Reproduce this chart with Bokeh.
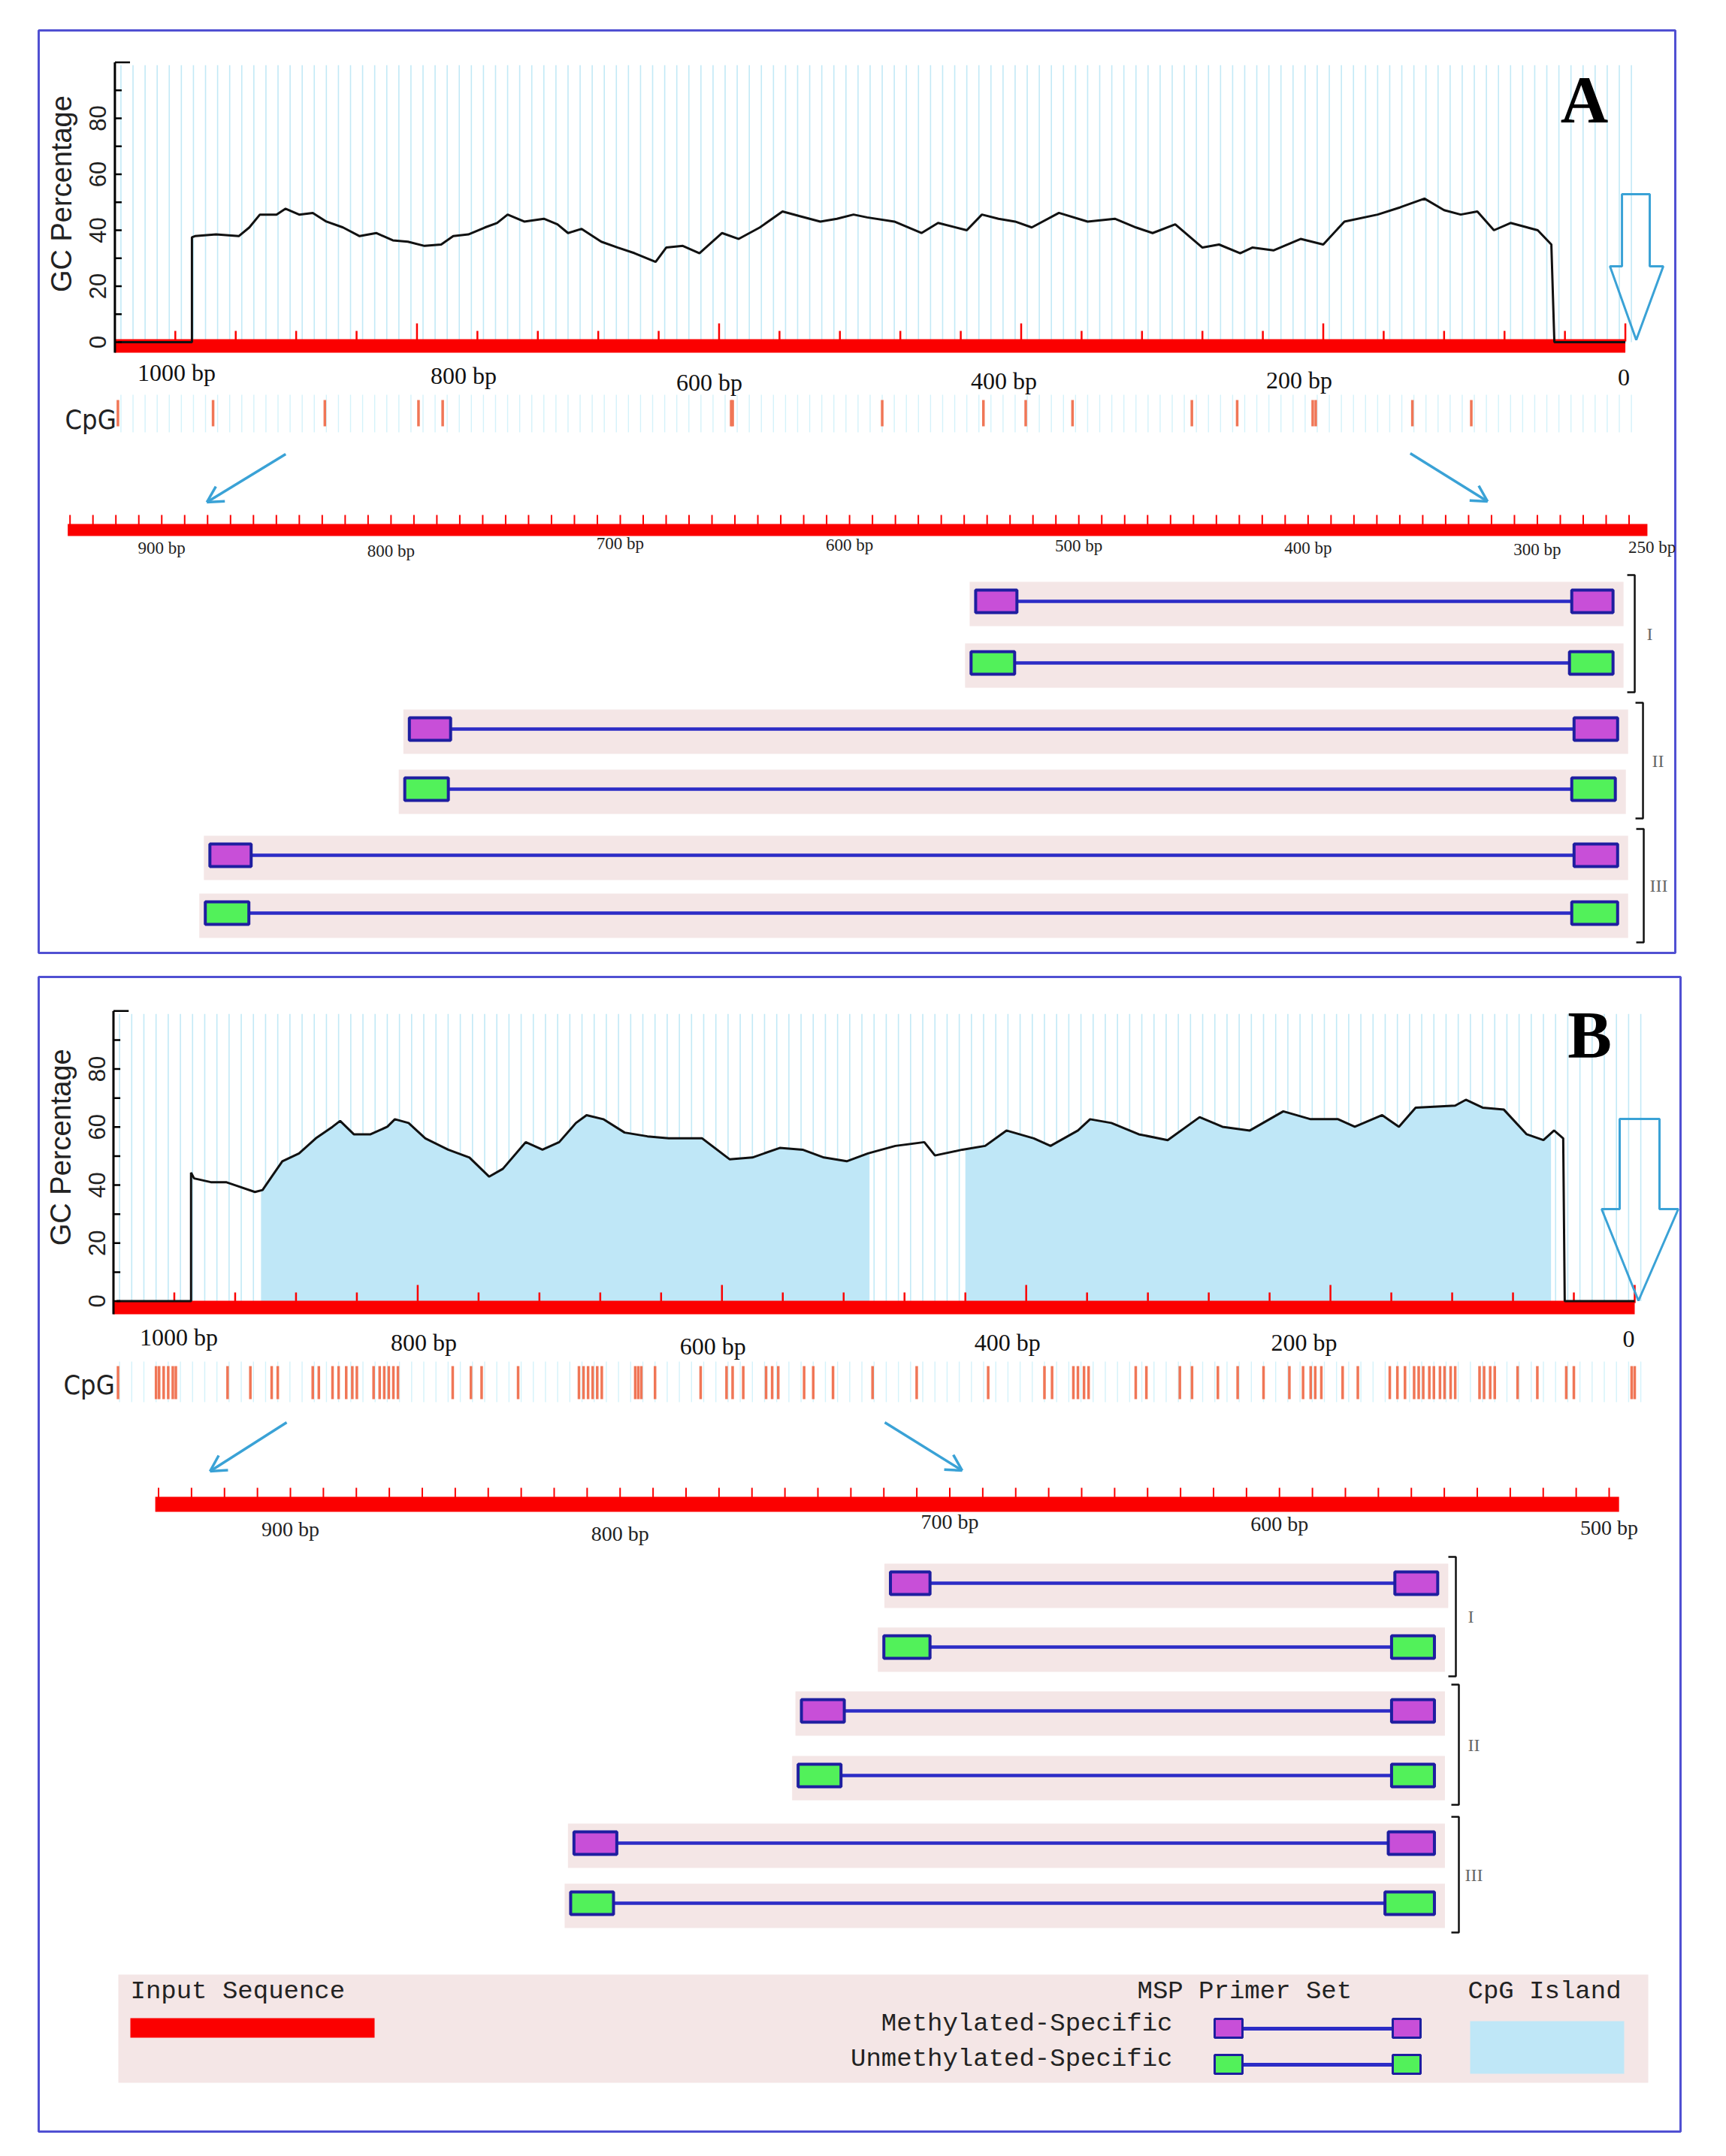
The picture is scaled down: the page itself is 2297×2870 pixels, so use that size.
import numpy as np
from bokeh.plotting import figure
from bokeh.models import Range1d, ColumnDataSource
from bokeh.layouts import column
from bokeh.embed import file_html
from bokeh.resources import INLINE
from bokeh.core.properties import value

# ======================= DATA =======================
# GC percentage profile, panel A (position in bp, GC %)
GC_A_BP = [998, 949, 949, 947, 933, 918, 911, 904, 893, 887, 878, 869, 860, 849, 838, 827,
           816, 806, 795, 784, 776, 766, 755, 747, 740, 729, 716, 707, 700, 691, 678, 667,
           656, 642, 635, 624, 613, 598, 587, 573, 558, 547, 533, 522, 511, 502, 484, 466,
           455, 436, 426, 415, 404, 393, 375, 356, 338, 324, 313, 298, 280, 269, 255, 247,
           233, 215, 200, 186, 164, 149, 133, 120, 109, 98, 87, 76, 58, 49, 47, 0]
GC_A_PCT = [0, 0, 37.5, 37.9, 38.5, 37.9, 41.0, 45.6, 45.6, 47.7, 45.6, 46.2, 43.1, 41.0, 37.9, 39.0,
            36.4, 35.9, 34.4, 34.9, 37.9, 38.5, 41.0, 42.6, 45.6, 43.1, 44.1, 42.1, 39.0, 40.5, 35.9, 33.8,
            31.8, 28.7, 33.8, 34.4, 31.8, 39.0, 36.9, 41.0, 46.7, 45.1, 43.1, 44.1, 45.6, 44.6, 43.1, 39.0,
            42.6, 40.0, 45.6, 44.1, 43.1, 41.0, 46.2, 43.1, 44.1, 41.0, 39.0, 42.1, 33.8, 34.9, 31.8, 33.8,
            32.8, 36.9, 34.9, 43.1, 45.6, 48.2, 51.3, 47.2, 45.6, 46.7, 40.0, 42.6, 40.0, 34.9, 0, 0]

# GC percentage profile, panel B
GC_B_BP = [998, 949, 949, 947, 936, 926, 918, 907, 902, 896, 889, 878, 867, 856, 851, 842,
           831, 820, 815, 806, 795, 780, 766, 753, 744, 729, 718, 707, 696, 689, 678, 664,
           649, 635, 613, 595, 580, 562, 547, 533, 518, 504, 486, 467, 460, 442, 427, 413,
           395, 384, 366, 358, 344, 326, 307, 286, 271, 253, 231, 213, 195, 184, 166, 155,
           144, 118, 111, 100, 86, 71, 60, 53, 47, 46, 0]
GC_B_PCT = [0, 0, 44.3, 42.3, 41.0, 41.0, 39.6, 37.6, 38.3, 42.9, 48.2, 50.9, 56.1, 60.1, 62.1, 57.5,
            57.5, 60.1, 62.7, 61.4, 56.1, 52.2, 49.5, 42.9, 45.6, 54.8, 52.2, 54.8, 61.4, 64.1, 62.7, 58.1,
            56.8, 56.1, 56.1, 48.9, 49.5, 52.8, 52.2, 49.5, 48.2, 50.9, 53.5, 54.8, 50.2, 52.2, 53.5, 58.8,
            56.1, 53.5, 58.8, 62.7, 61.4, 57.5, 55.5, 63.4, 60.1, 58.8, 65.4, 62.7, 62.7, 60.1, 64.1, 60.1,
            66.7, 67.4, 69.4, 66.7, 66.0, 57.5, 55.5, 58.8, 56.1, 0, 0]

# CpG island (panel B): start / end positions in bp
ISLAND_B_START = [903, 440]
ISLAND_B_END = [503, 55]

# CpG sites (bp)
CPG_A = [998, 935, 861, 799, 783, 592, 591, 492, 425, 397, 366, 287, 257, 207, 205, 141, 102]
CPG_B = [997, 972, 970, 967, 964, 961, 959, 925, 910, 896, 892, 869, 865, 856, 852, 847, 843, 840,
         829, 825, 822, 819, 816, 813, 777, 765, 758, 734, 694, 691, 688, 685, 682, 679, 657, 655,
         653, 644, 614, 597, 593, 586, 571, 567, 563, 546, 540, 527, 501, 472, 425, 388, 383, 369,
         366, 362, 359, 328, 321, 299, 291, 274, 261, 244, 227, 218, 213, 210, 206, 192, 182, 161,
         156, 151, 145, 142, 139, 135, 132, 128, 125, 121, 118, 102, 99, 95, 92, 77, 64, 45, 40, 2, 0]

# whole-sequence ruler labels
RULER_BP = [1000, 800, 600, 400, 200, 0]
RULER_LABELS = ["1000 bp", "800 bp", "600 bp", "400 bp", "200 bp", "0"]

# zoomed rulers
ZOOM_A_BP = [900, 800, 700, 600, 500, 400, 300, 250]
ZOOM_A_LABELS = ["900 bp", "800 bp", "700 bp", "600 bp", "500 bp", "400 bp", "300 bp", "250 bp"]
ZOOM_A_SPAN = [941, 252]
ZOOM_B_BP = [900, 800, 700, 600, 500]
ZOOM_B_LABELS = ["900 bp", "800 bp", "700 bp", "600 bp", "500 bp"]
ZOOM_B_SPAN = [941, 497]

# MSP primer sets (bp): forward box start/end, reverse box start/end
PRIMER_SETS = ["I", "II", "III"]
PRIMER_TYPE = ["M", "U", "M", "U", "M", "U"]
PA_FWD_START = [545, 547, 792, 794, 879, 881]
PA_FWD_END = [527, 528, 774, 775, 861, 862]
PA_REV_START = [285, 286, 284, 285, 284, 285]
PA_REV_END = [267, 267, 265, 266, 265, 265]
PB_FWD_START = [718, 720, 745, 746, 814, 815]
PB_FWD_END = [706, 706, 732, 733, 801, 802]
PB_REV_START = [565, 566, 566, 566, 567, 568]
PB_REV_END = [552, 553, 553, 553, 553, 553]

GC_TICKS = [0, 20, 40, 60, 80]

# ======================= STYLE / LAYOUT =======================
RED = "#fb0000"
GRID = "#c2e9f6"
GRID2 = "#d4f2fa"
CPG_COL = "#f07656"
ISL = "#bfe7f7"
ARROW = "#3aa2d6"
BORDER = "#5050d2"
BAND = "#f4e6e6"
PLINE = "#2c2cc6"
BOXLINE = "#1e1ea0"
FILL = {"M": "#c84fd8", "U": "#52f15a"}

SERIF = value("Liberation Serif")
SANS = value("Liberation Sans")
COND = value("DejaVu Sans Condensed")
MONO = value("Liberation Mono")


def fs(n):
    return value(f"{n}px")


def mid(base, size):
    # vertical centre of capitals/digits for a given baseline
    return base - 0.35 * size


LAY_A = dict(
    frame=(49, 40, 2229, 1268), border=(49, 40, 16, 8),
    main=(2162.5, 2.012), zoom=(250, 2198, 3.054), gc=(455, 3.725),
    bar=(451, 469), tick_minor=440, tick_major=430,
    lab_base=[507, 511, 520, 518, 517, 513], lab_off=[82, 62, -13, -23, -32, -2],
    grid_strip=(525, 575), cpg_marks=(532, 567), cpg_label=(84, 571),
    arrows=[(378, 604, 273, 668), (1876, 603, 1979, 667)],
    zbar=(697, 713), ztick=685, zfont=23, zbase=[737, 741, 731, 733, 734, 737, 739, 736],
    rows=[800, 882, 970, 1050, 1138, 1215], bracket_x=[2175, 2186, 2187],
    big=(2158, 2195, 258, 354, 2142, 2213, 2177, 452),
    letter=("A", 2108, 132), gc_label=(80, 53),
)
LAY_B = dict(
    frame=(51, 1300, 2236, 2837), border=(51, 24, 16, 8),
    main=(2175, 2.0245), zoom=(500, 2141, 4.3875), gc=(1731.5, 3.862),
    bar=(1731, 1749), tick_minor=1720, tick_major=1710,
    lab_base=[1791, 1798, 1803, 1798, 1798, 1793], lab_off=[87, 8, -12, -25, -35, -8],
    grid_strip=(1812, 1866), cpg_marks=(1818, 1862), cpg_label=(84, 1856),
    arrows=[(381, 1893, 279, 1958), (1177, 1893, 1280, 1957)],
    zbar=(1992, 2012), ztick=1980, zfont=28, zbase=[2045, 2051, 2035, 2038, 2043],
    rows=[2107, 2192, 2277, 2363, 2453, 2533], bracket_x=[1937, 1941, 1941],
    big=(2155, 2208, 1489, 1609, 2131, 2233, 2180, 1731),
    letter=("B", 2115, 1377), gc_label=(80, 53),
)


def arrow_segs(x0, y0, x1, y1, size=24, ang=0.5):
    dx, dy = x1 - x0, y1 - y0
    n = np.hypot(dx, dy)
    bx, by = -dx / n, -dy / n
    c, s = np.cos(ang), np.sin(ang)
    h1 = (x1 + size * (bx * c - by * s), y1 + size * (bx * s + by * c))
    h2 = (x1 + size * (bx * c + by * s), y1 + size * (-bx * s + by * c))
    return ([x0, x1, x1, x1], [y0, y1, y1, y1], [x1, x1, h1[0], h2[0]], [y1, y1, h1[1], h2[1]])


def make_panel(L, gc_bp, gc_pct, cpg, zoom_bp, zoom_labels, zoom_span,
               fs_, fe_, rs_, re_, islands=None, legend=False):
    fl, ft, fr, fb = L["frame"]
    bl, bt, br, bb = L["border"]
    x0, kx = L["main"]
    zr, zx, zk = L["zoom"]
    y0, ky = L["gc"]

    def mbp(x):
        return (x0 - x) / kx

    def zbp(x):
        return zr + (zx - x) / zk

    def gcv(y):
        return (y0 - y) / ky

    p = figure(width=bl + (fr - fl) + br, height=bt + (fb - ft) + bb,
               x_range=Range1d(mbp(fl), mbp(fr)), y_range=Range1d(gcv(fb), gcv(ft)),
               output_backend="svg", toolbar_location=None,
               x_axis_location=None, y_axis_location=None,
               min_border_left=bl, min_border_right=br, min_border_top=bt, min_border_bottom=bb)
    p.extra_x_ranges = {"zoom": Range1d(zbp(fl), zbp(fr)), "px": Range1d(fl, fr)}
    p.extra_y_ranges = {"px": Range1d(fb, ft)}
    p.grid.visible = False
    p.outline_line_color = BORDER
    p.outline_line_width = 3
    p.background_fill_color = "white"
    p.border_fill_color = "white"
    PX = dict(x_range_name="px", y_range_name="px")

    # --- background grid of the GC plot and CpG strip
    gx = np.arange(996, -5, -8)
    p.segment(x0=gx, y0=0, x1=gx, y1=99, line_color=GRID, line_width=1.6)
    s0, s1 = L["grid_strip"]
    p.segment(x0=gx, y0=s0, x1=gx, y1=s1, line_color=GRID2, line_width=1.4, y_range_name="px")

    # --- CpG island shading
    if islands is not None:
        xp = np.array(gc_bp[::-1], dtype=float)
        fp = np.array(gc_pct[::-1], dtype=float)
        for s, e in zip(*islands):
            xs = [s] + [b for b in gc_bp if e < b < s] + [e]
            ys = np.interp(xs, xp, fp)
            p.varea(x=xs, y1=0, y2=ys, fill_color=ISL)

    # --- whole-sequence ruler
    b0, b1 = L["bar"]
    p.quad(left=[1000], right=[0], top=[b0], bottom=[b1], fill_color=RED, line_color=None,
           y_range_name="px")
    tb = np.arange(960, -1, -40)
    tt = [L["tick_major"] if v % 200 == 0 else L["tick_minor"] for v in tb]
    p.segment(x0=tb, y0=tt, x1=tb, y1=b0 + 3, line_color=RED, line_width=2.5, y_range_name="px")

    # --- GC curve
    p.line(gc_bp, gc_pct, line_color="#111111", line_width=3)

    # --- y axis
    p.segment(x0=[1000], y0=[gcv(b1)], x1=[1000], y1=[100], line_color="black", line_width=3)
    yt = np.arange(0, 101, 10)
    p.segment(x0=[1000] * len(yt), y0=yt, x1=[1000 - (10 if v == 100 else 4.5) for v in yt], y1=yt,
              line_color="black", line_width=2.5)
    p.text(x=[128] * len(GC_TICKS), y=GC_TICKS, text=[str(v) for v in GC_TICKS], angle=np.pi / 2,
           text_font=SANS, text_font_size=fs(31), text_color="#222222",
           text_align="center", text_baseline="middle", x_range_name="px")
    gxl, gyl = L["gc_label"]
    p.text(x=[gxl], y=[gyl], text=["GC Percentage"], angle=np.pi / 2, text_font=SANS,
           text_font_size=fs(38), text_color="#222222", text_align="center",
           text_baseline="middle", x_range_name="px")

    # --- ruler labels
    src = ColumnDataSource(dict(x=RULER_BP, y=[mid(v, 32) for v in L["lab_base"]],
                                t=RULER_LABELS, dx=L["lab_off"]))
    p.text(x="x", y="y", text="t", x_offset="dx", source=src, text_font=SERIF,
           text_font_size=fs(32), text_color="#111111", text_align="center",
           text_baseline="middle", y_range_name="px")

    # --- CpG sites
    c0, c1 = L["cpg_marks"]
    p.segment(x0=cpg, y0=c0, x1=cpg, y1=c1, line_color=CPG_COL, line_width=3.5,
              y_range_name="px")
    cx, cy = L["cpg_label"]
    p.text(x=[cx], y=[mid(cy, 36)], text=["CpG"], text_font=COND, text_font_size=fs(36),
           text_color="#222222", text_align="left", text_baseline="middle", **PX)

    # --- zoom arrows
    for a in L["arrows"]:
        sx0, sy0, sx1, sy1 = arrow_segs(*a)
        p.segment(x0=sx0, y0=sy0, x1=sx1, y1=sy1, line_color=ARROW, line_width=3.5, **PX)

    # --- zoomed ruler
    z0, z1 = L["zbar"]
    p.quad(left=[zoom_span[0]], right=[zoom_span[1]], top=[z0], bottom=[z1], fill_color=RED,
           line_color=None, x_range_name="zoom", y_range_name="px")
    zt = np.arange((zoom_span[0] // 10) * 10, zoom_span[1], -10)
    p.segment(x0=zt, y0=L["ztick"], x1=zt, y1=z0 + 3, line_color=RED, line_width=2,
              x_range_name="zoom", y_range_name="px")
    p.text(x=zoom_bp, y=[mid(v, L["zfont"]) for v in L["zbase"]], text=zoom_labels,
           text_font=SERIF, text_font_size=fs(L["zfont"]), text_color="#222222",
           text_align="center", text_baseline="middle", x_range_name="zoom", y_range_name="px")

    # --- primer sets
    rows = L["rows"]
    ZP = dict(x_range_name="zoom", y_range_name="px")
    band_l = [v + 8 / zk for v in fs_]
    band_r = [v - 14 / zk for v in re_]
    p.quad(left=band_l, right=band_r, top=[r - 26 for r in rows], bottom=[r + 33 for r in rows],
           fill_color=BAND, line_color=None, **ZP)
    p.segment(x0=fe_, y0=rows, x1=rs_, y1=rows, line_color=PLINE, line_width=4.5, **ZP)
    fills = [FILL[t] for t in PRIMER_TYPE]
    p.quad(left=fs_, right=fe_, top=[r - 15 for r in rows], bottom=[r + 15 for r in rows],
           fill_color=fills, line_color=BOXLINE, line_width=4, **ZP)
    p.quad(left=rs_, right=re_, top=[r - 15 for r in rows], bottom=[r + 15 for r in rows],
           fill_color=fills, line_color=BOXLINE, line_width=4, **ZP)

    # brackets and set labels
    bxs, bys, lx, ly = [], [], [], []
    for k, bx in enumerate(L["bracket_x"]):
        top = rows[2 * k] - 35
        bot = rows[2 * k + 1] + 39
        bxs.append([bx - 10, bx, bx, bx - 10])
        bys.append([top, top, bot, bot])
        lx.append(bx + 20)
        ly.append((top + bot) / 2)
    p.multi_line(xs=bxs, ys=bys, line_color="#111111", line_width=2.5, **PX)
    p.text(x=lx, y=ly, text=PRIMER_SETS, text_font=SERIF, text_font_size=fs(24),
           text_color="#666666", text_align="center", text_baseline="middle", **PX)

    # --- big hollow arrow
    sl, sr, st, sb, hl, hr, tx, ty = L["big"]
    p.patch(x=[sl, sr, sr, hr, tx, hl, sl], y=[st, st, sb, sb, ty, sb, sb],
            fill_alpha=0, line_color=ARROW, line_width=3, **PX)

    # --- panel letter
    lt, lxx, lyy = L["letter"]
    p.text(x=[lxx], y=[lyy], text=[lt], text_font=SERIF, text_font_style="bold",
           text_font_size=fs(88), text_color="black", text_align="center",
           text_baseline="middle", **PX)

    # --- legend
    if legend:
        p.quad(left=[157], right=[2193], top=[2628], bottom=[2772], fill_color=BAND,
               line_color=None, **PX)
        p.text(x=[173, 1513, 1953], y=[mid(2662, 34)] * 3,
               text=["Input Sequence", "MSP Primer Set", "CpG Island"], text_font=MONO,
               text_font_size=fs(34), text_color="#222222", text_align="left",
               text_baseline="middle", **PX)
        p.text(x=[1560, 1560], y=[mid(2705, 34), mid(2752, 34)],
               text=["Methylated-Specific", "Unmethylated-Specific"], text_font=MONO,
               text_font_size=fs(34), text_color="#222222", text_align="right",
               text_baseline="middle", **PX)
        p.quad(left=[173], right=[498], top=[2686], bottom=[2712], fill_color=RED,
               line_color=None, **PX)
        p.segment(x0=[1640, 1640], y0=[2700, 2748], x1=[1870, 1870], y1=[2700, 2748],
                  line_color=PLINE, line_width=5, **PX)
        p.quad(left=[1616, 1853, 1616, 1853], right=[1653, 1890, 1653, 1890],
               top=[2687, 2687, 2735, 2735], bottom=[2712, 2712, 2760, 2760],
               fill_color=[FILL["M"], FILL["M"], FILL["U"], FILL["U"]],
               line_color=BOXLINE, line_width=3, **PX)
        p.quad(left=[1956], right=[2161], top=[2690], bottom=[2760], fill_color=ISL,
               line_color=None, **PX)
    return p


pA = make_panel(LAY_A, GC_A_BP, GC_A_PCT, CPG_A, ZOOM_A_BP, ZOOM_A_LABELS, ZOOM_A_SPAN,
                PA_FWD_START, PA_FWD_END, PA_REV_START, PA_REV_END)
pB = make_panel(LAY_B, GC_B_BP, GC_B_PCT, CPG_B, ZOOM_B_BP, ZOOM_B_LABELS, ZOOM_B_SPAN,
                PB_FWD_START, PB_FWD_END, PB_REV_START, PB_REV_END,
                islands=(ISLAND_B_START, ISLAND_B_END), legend=True)

layout = column(pA, pB, spacing=0)
open("out.html", "w").write(file_html(layout, INLINE, title="MSP primer design"))
